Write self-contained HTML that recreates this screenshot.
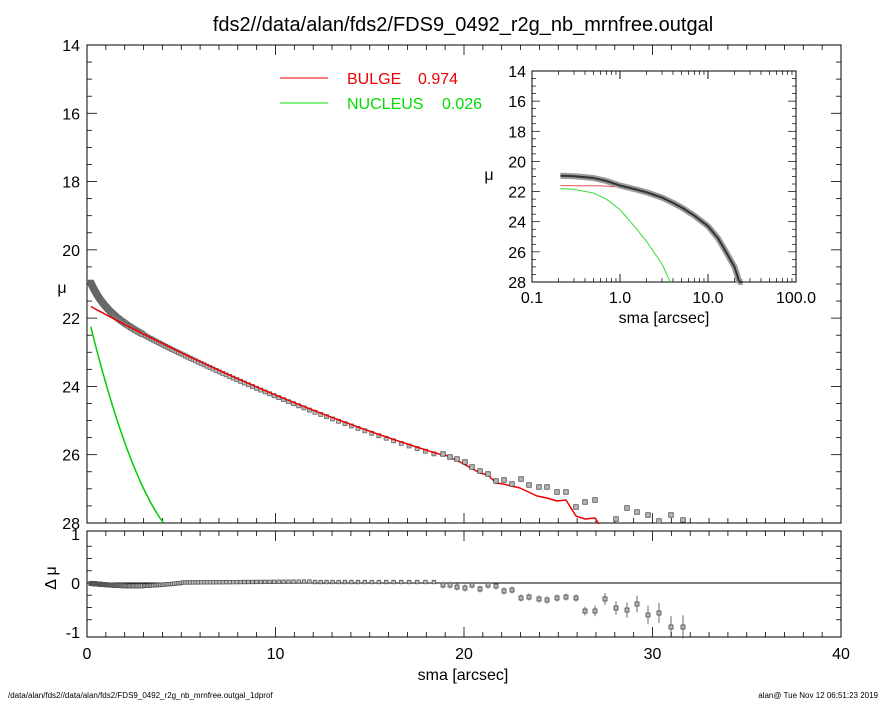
<!DOCTYPE html>
<html><head><meta charset="utf-8"><style>
html,body{margin:0;padding:0;background:#fff}
svg{display:block;font-family:"Liberation Sans",sans-serif}
</style></head><body>
<svg id="s" width="885" height="708" viewBox="0 0 885 708" xmlns="http://www.w3.org/2000/svg">
<rect width="885" height="708" fill="#fff"/>
<text x="463" y="31" font-size="20" text-anchor="middle">fds2//data/alan/fds2/FDS9_0492_r2g_nb_mrnfree.outgal</text>
<g id="g"></g>
<line x1="280" y1="78" x2="328" y2="78" stroke="#e00" stroke-width="1"/>
<text x="347" y="84" font-size="16" fill="#e00">BULGE</text><text x="418" y="84" font-size="16" fill="#e00">0.974</text>
<line x1="280" y1="103" x2="328" y2="103" stroke="#0d0" stroke-width="1"/>
<text x="347" y="109" font-size="16" fill="#0d0">NUCLEUS</text><text x="442" y="109" font-size="16" fill="#0d0">0.026</text>
<text x="8" y="698" font-size="8">/data/alan/fds2//data/alan/fds2/FDS9_0492_r2g_nb_mrnfree.outgal_1dprof</text>
<text x="878" y="698" font-size="8" text-anchor="end">alan@  Tue Nov 12 06:51:23 2019</text>
</svg>
<script>
var o='';
function L(x1,y1,x2,y2,c,w){o+='<line x1="'+x1+'" y1="'+y1+'" x2="'+x2+'" y2="'+y2+'" stroke="'+(c||'#000')+'" stroke-width="'+(w||1)+'"/>';}
function T(x,y,t,s,a){o+='<text x="'+x+'" y="'+y+'" font-size="'+s+'" text-anchor="'+(a||'middle')+'">'+t+'</text>';}
function P(pts,c,w){o+='<polyline fill="none" stroke="'+c+'" stroke-width="'+(w||1.5)+'" stroke-linejoin="round" points="'+pts.map(function(p){return p[0].toFixed(1)+','+p[1].toFixed(1)}).join(' ')+'"/>';}
function B(x,y,s,sc){o+='<rect x="'+(x-s/2)+'" y="'+(y-s/2)+'" width="'+s+'" height="'+s+'" fill="#bbb" stroke="'+(sc||'#444')+'" stroke-width="0.8"/>';}
var X0=87,XS=18.85,Y0=45,YS=34.14;
function mx(r){return X0+r*XS} function my(m){return Y0+(m-14)*YS}
function bul(r){return 21.6+0.3*r-0.0035*r*r}
function obs(r){return bul(r)-0.95*Math.exp(-r/0.8)+0.04}
function nuc(r){return 21.8+2.3*r-0.19*r*r}
o+='<rect x="87" y="45" width="754" height="478" fill="none" stroke="#000"/>';
o+='<rect x="87" y="531" width="754" height="106" fill="none" stroke="#000"/>';
for(var i=0;i<=40;i++){var x=mx(i),l=(i%10==0)?10:5;L(x,523,x,523-l,'#000',0.8);L(x,45,x,45+l,'#000',0.8);L(x,637,x,637-l,'#000',0.8);L(x,531,x,531+l,'#000',0.8);}
for(var m=14;m<=28;m+=0.5){var y=my(m),l=(m%2==0)?10:5;L(87,y,87+l,y,'#000',0.8);L(841,y,841-l,y,'#000',0.8);}
for(var m=14;m<=28;m+=2)T(80,my(m)+6,m,16,'end');
[0,10,20,30,40].forEach(function(v){T(mx(v),659,v,16)});
T(463,680,'sma [arcsec]',16);
T(62,293,'μ',16);
o+='<text x="62" y="584" font-size="16" text-anchor="middle" transform="rotate(-90 56 584)">Δ μ</text>';
var RY0=583,RS=49;
T(80,540,'1',16,'end');T(80,589,'0',16,'end');T(80,638,'-1',16,'end');
for(var v=-1;v<=1;v+=0.25){var y=RY0-v*RS,l=(v%1==0)?10:5;if(Math.abs(v)<1){L(87,y,87+l,y,'#000',0.8);L(841,y,841-l,y,'#000',0.8);}}
L(87,RY0,841,RY0,'#000',1);
var g=[];for(var r=0.2;r<=4.05;r+=0.05)g.push([mx(r),Math.min(my(nuc(r)),523)]);P(g,'#0c0');
var rd=[];for(var r=0.2;r<19;r+=0.1)rd.push([mx(r),my(bul(r))]);
[[443,454],[460,462],[480,473],[488,475],[496,483],[503,484],[520,488],[537,496],[547,498],[557,501],[566,500],[576,516],[585,519],[595,518],[599,524]].forEach(function(p){rd.push(p)});
var r=0.2;
while(r<18.8){var x=mx(r),y=my(obs(r)),s=r<3?5:4;
var res=r<5?-0.06*Math.sin(r/5*Math.PI):(r<12?0.01+0.02*(r-5)/7:0.02);
B(x,y,s,'#666');B(x,RY0-res*RS,r<3?4:3.5,'#555');r*=r<3?1.03:1.025;}
P(rd,'#e00');
var out=[[443,454],[450,457],[457,459],[465,462],[472,467],[480,471],[488,474],[496,481],[504,480],[512,484],[521,479],[529,485],[539,487],[547,487],[557,492],[566,492],[576,507],[585,502],[595,500],[605,524],[616,519],[627,508],[637,512],[648,515],[659,521],[671,515],[683,520]];
var ry=[585,585,587,588,585,589,585,586,591,590,598,597,599,600,598,597,598,611,611,599,608,610,604,615,613,627,627];
out.forEach(function(p,i){if(p[1]<522)B(p[0],p[1],4.5);var e=i>15?(i-14)*0.8:1.5;L(p[0],ry[i]-e-2,p[0],ry[i]+e+2,'#444',0.8);B(p[0],ry[i],4);});
var IX=532,ID=88,IY=71,IS=15.07;
function ix(r){return IX+ID*Math.log10(r/0.1)} function iy(m){return IY+(m-14)*IS}
o+='<rect x="532" y="71" width="264" height="211" fill="#fff" stroke="#000"/>';
for(var d=0;d<3;d++)for(var k=1;k<=10;k++){var x=ix(0.1*Math.pow(10,d)*k),l=k==10||k==1?8:4;L(x,282,x,282-l,'#000',0.7);L(x,71,x,71+l,'#000',0.7);}
for(var m=14;m<=28;m+=0.5){var y=iy(m),l=(m%2==0)?8:4;L(532,y,532+l,y,'#000',0.7);L(796,y,796-l,y,'#000',0.7);}
for(var m=14;m<=28;m+=2)T(526,iy(m)+6,m,16,'end');
[['0.1',0.1],['1.0',1],['10.0',10],['100.0',100]].forEach(function(a){T(ix(a[1]),303,a[0],16)});
T(664,323,'sma [arcsec]',16);
T(489,180,'μ',16);
function interp(tab,r){var lr=Math.log10(r);for(var i=0;i<tab.length-1;i++){var a=Math.log10(tab[i][0]),b=Math.log10(tab[i+1][0]);if(lr<=b){var t=(lr-a)/(b-a);return tab[i][1]+t*(tab[i+1][1]-tab[i][1]);}}return tab[tab.length-1][1];}
var to=[[0.2,20.95],[0.3,20.98],[0.5,21.1],[0.7,21.3],[1,21.6],[1.5,21.85],[2,22.05],[3,22.4],[4,22.75],[5,23.05],[7,23.6],[10,24.3],[13,25.1],[16,26.0],[20,27.0],[23,28.1],[25,28.5]];
var tr=[[0.2,21.6],[0.6,21.62],[1,21.7],[1.5,21.9],[2,22.1]];
var tg=[[0.2,21.8],[0.3,21.85],[0.5,22.1],[0.7,22.5],[1,23.2],[1.5,24.4],[2,25.3],[3,26.8],[3.8,28.1]];
var io=[],ir=[],ig=[];
for(var lr=Math.log10(0.21);lr<=Math.log10(25);lr+=0.01){var r=Math.pow(10,lr);io.push([ix(r),Math.min(iy(interp(to,r)),282)]);if(r<2)ir.push([ix(r),iy(interp(tr,r))]);if(r<3.8)ig.push([ix(r),Math.min(iy(interp(tg,r)),282)]);}
P(ir,'#e55',1);P(ig,'#3d3',1);P(io,'#999',6);P(io,'#333',2);
document.getElementById('g').innerHTML=o;
</script>
</body></html>
